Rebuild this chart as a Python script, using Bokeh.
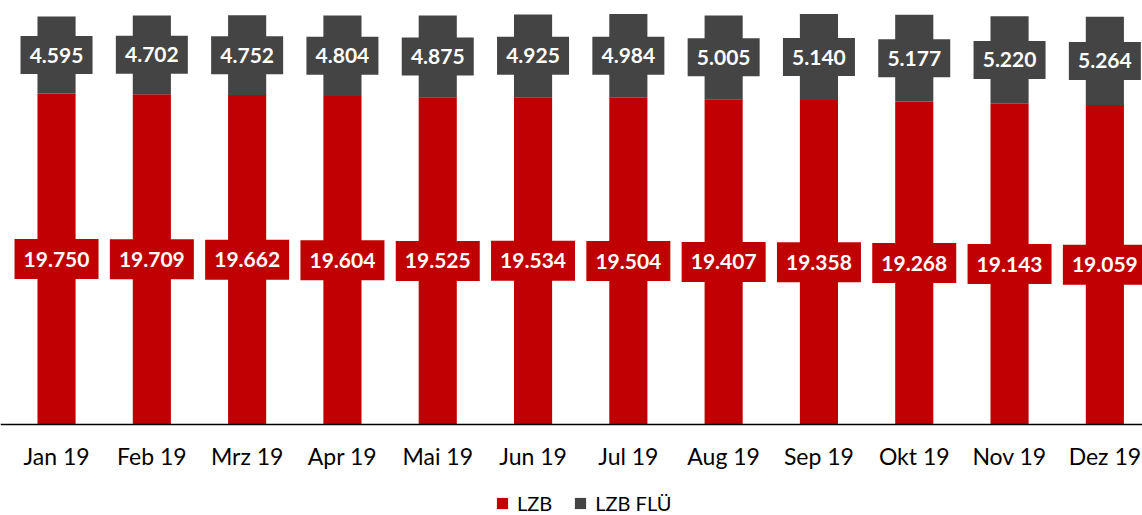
from bokeh.plotting import figure
from bokeh.models import (ColumnDataSource, Range1d, FixedTicker, Legend, LegendItem,
                          LinearAxis)
from bokeh.embed import file_html
from bokeh.resources import INLINE
from bokeh.core.properties import value

months = ["Jan 19", "Feb 19", "Mrz 19", "Apr 19", "Mai 19", "Jun 19",
          "Jul 19", "Aug 19", "Sep 19", "Okt 19", "Nov 19", "Dez 19"]
lzb = [19750, 19709, 19662, 19604, 19525, 19534, 19504, 19407, 19358, 19268, 19143, 19059]
lzb_flue = [4595, 4702, 4752, 4804, 4875, 4925, 4984, 5005, 5140, 5177, 5220, 5264]

RED = "#C00000"
GRAY = "#444444"
FONT = "Lato"

def fmt(v):
    return f"{v:,}".replace(",", ".")

x = list(range(len(months)))
top = [a + b for a, b in zip(lzb, lzb_flue)]
src = ColumnDataSource(dict(
    x=x, lzb=lzb, flue=lzb_flue, top=top,
    zero=[0] * len(x),
    lzb_mid=[a / 2 for a in lzb],
    flue_mid=[a + b / 2 for a, b in zip(lzb, lzb_flue)],
    lzb_lab=[fmt(v) for v in lzb],
    flue_lab=[fmt(v) for v in lzb_flue],
))

# frame spans whole figure; value axis starts below 0 to leave room for labels/legend
p = figure(width=1142, height=515, output_backend="svg", toolbar_location=None,
           x_range=Range1d(-0.588, 11.395), y_range=Range1d(-5430, 25300),
           min_border_left=0, min_border_right=0, min_border_top=0, min_border_bottom=0,
           y_axis_location=None, x_axis_location=None)
p.outline_line_color = None
p.xgrid.visible = False
p.ygrid.visible = False

r1 = p.vbar(x="x", bottom="zero", top="lzb", width=0.4, source=src, fill_color=RED, line_color=None)
r2 = p.vbar(x="x", bottom="lzb", top="top", width=0.4, source=src, fill_color=GRAY, line_color=None)

# data labels
p.rect(x="x", y="flue_mid", width=72, height=38, width_units="screen", height_units="screen",
       source=src, fill_color=GRAY, line_color=None)
p.rect(x="x", y="lzb_mid", width=84, height=40, width_units="screen", height_units="screen",
       source=src, fill_color=RED, line_color=None)
p.text(x="x", y="flue_mid", text="flue_lab", source=src, text_align="center", text_baseline="middle",
       text_color="white", text_font=value(FONT), text_font_style="bold", text_font_size="21px")
p.text(x="x", y="lzb_mid", text="lzb_lab", source=src, text_align="center", text_baseline="middle",
       text_color="white", text_font=value(FONT), text_font_style="bold", text_font_size="21px")

ax = LinearAxis(fixed_location=0)
ax.ticker = FixedTicker(ticks=x)
ax.major_label_overrides = {i: m for i, m in enumerate(months)}
ax.major_tick_line_color = None
ax.minor_tick_line_color = None
ax.axis_line_color = "#000000"
ax.axis_line_width = 1.5
ax.major_label_standoff = 12
ax.major_label_text_font = FONT
ax.major_label_text_font_size = "23px"
ax.major_label_text_color = "#000000"
p.add_layout(ax, "below")

legend = Legend(items=[LegendItem(label="LZB", renderers=[r1]),
                       LegendItem(label="LZB FLÜ", renderers=[r2])],
                location=(495, 0), orientation="horizontal",
                glyph_width=14, glyph_height=14, label_standoff=8, spacing=21,
                padding=0, margin=0, border_line_color=None, background_fill_alpha=0,
                label_text_font=FONT, label_text_font_size="20px", label_text_color="#000000")
p.add_layout(legend, "center")

open("out.html", "w").write(file_html(p, INLINE))
